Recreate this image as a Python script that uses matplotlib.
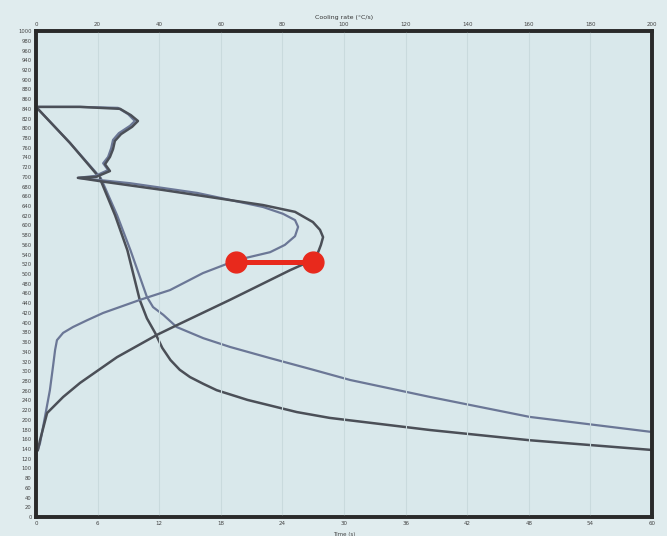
import numpy as np
import matplotlib
matplotlib.use("Agg")
import matplotlib.pyplot as plt

# cooling curves: time (s) vs temperature (C)
dark_time = [0, 3.3, 6.2, 7.7, 8.9, 10.1, 10.8, 11.6, 12.3, 13.1, 14.0, 15.0, 16.3, 17.6,
             20.6, 25.4, 28.6, 38.4, 48.1, 60.0]
dark_temp = [844, 770, 698, 621, 549, 447, 409, 379, 348, 323, 303, 288, 274, 261,
             241, 216, 204, 179, 158, 138]
blue_time = [0, 3.3, 6.3, 7.9, 9.2, 10.8, 11.4, 12.4, 13.7, 16.3, 18.9, 22.8, 27.0, 30.6,
             38.4, 48.1, 60.0]
blue_temp = [844, 770, 698, 621, 549, 453, 432, 416, 391, 368, 350, 327, 303, 282,
             247, 206, 175]

# cooling rate curves: rate (C/s) vs temperature (C)
blue_rate = [0, 14.3, 26.6, 29.9, 32.1, 30.5, 26.9, 25.0, 24.4, 23.4, 21.8, 23.4, 19.2, 13.6,
             21.4, 30.5, 52.3, 73.7, 80.2, 84.1, 85.1, 84.1, 80.8, 76.0, 65.3, 54.2, 43.5,
             33.8, 21.8, 16.6, 12.0, 8.8, 6.8, 6.2, 5.5, 4.5, 2.9, 1.3, 0.6]
blue_rate_temp = [844, 844, 842, 829, 815, 805, 790, 776, 759, 741, 728, 714, 702, 698,
                  693, 687, 667, 638, 624, 611, 597, 578, 560, 545, 529, 502, 467,
                  447, 420, 405, 391, 379, 364, 344, 309, 261, 206, 152, 138]
dark_rate = [0, 14.3, 27.3, 30.8, 33.1, 31.2, 27.6, 25.6, 25.0, 24.0, 22.4, 24.0, 19.5, 13.6,
             23.1, 41.2, 73.7, 84.1, 89.9, 92.2, 93.2, 92.5, 91.6, 89.9, 82.5, 63.0, 45.8,
             39.3, 26.3, 14.3, 8.8, 3.6, 1.3, 0.6]
dark_rate_temp = [844, 844, 840, 827, 815, 803, 788, 774, 757, 741, 726, 712, 700, 698,
                  689, 673, 642, 628, 607, 591, 576, 560, 545, 529, 508, 447, 395,
                  375, 329, 276, 247, 214, 158, 138]

# red marker between the two rate curves
marker_rate = [65, 90]
marker_temp = [525, 525]

time_ticks = list(range(0, 61, 6))
rate_ticks = list(range(0, 201, 20))
temp_ticks = list(range(0, 1001, 20))

blue = "#6b7796"
dark = "#4b4f57"

fig = plt.figure(figsize=(6.67, 5.36), dpi=100, facecolor="#e0ecee")
ax = fig.add_axes([0.054, 0.0354, 0.9235, 0.9066])
ax.set_facecolor("#d9e8eb")

ax.plot(blue_time, blue_temp, color=blue, lw=1.6, solid_joinstyle="round")
ax.plot(dark_time, dark_temp, color=dark, lw=1.8, solid_joinstyle="round")
ax.set_xlim(0, 60)
ax.set_ylim(0, 1000)
ax.set_xticks(time_ticks)
ax.set_yticks(temp_ticks)
ax.set_yticklabels([str(t) for t in temp_ticks], fontsize=3.8, color="#444")
ax.set_xticklabels([str(t) for t in time_ticks], fontsize=4, color="#444")
ax.tick_params(length=0, pad=3)
ax.set_xlabel("Time (s)", fontsize=4, color="#444", labelpad=1)
ax.xaxis.set_label_coords(0.5, -0.03)
for s in ax.spines.values():
    s.set_linewidth(2.6)
    s.set_color("#2a2a2a")

ax2 = ax.twiny()
ax2.plot(blue_rate, blue_rate_temp, color=blue, lw=1.6, solid_joinstyle="round")
ax2.plot(dark_rate, dark_rate_temp, color=dark, lw=1.8, solid_joinstyle="round")
ax2.plot(marker_rate, marker_temp, color="#e8291c", lw=3.6, marker="o", ms=15, zorder=5)
ax2.set_xlim(0, 200)
ax2.set_xticks(rate_ticks)
ax2.set_xticklabels([str(r) for r in rate_ticks], fontsize=4, color="#444")
ax2.tick_params(length=0, pad=3)
ax2.grid(axis="x", color="#c9dadd", lw=0.8)
ax2.set_axisbelow(True)
ax2.set_title("Cooling rate (°C/s)", fontsize=4.5, color="#333", pad=9)
for s in ax2.spines.values():
    s.set_linewidth(2.6)
    s.set_color("#2a2a2a")

fig.savefig("out.png", dpi=100, facecolor=fig.get_facecolor())
